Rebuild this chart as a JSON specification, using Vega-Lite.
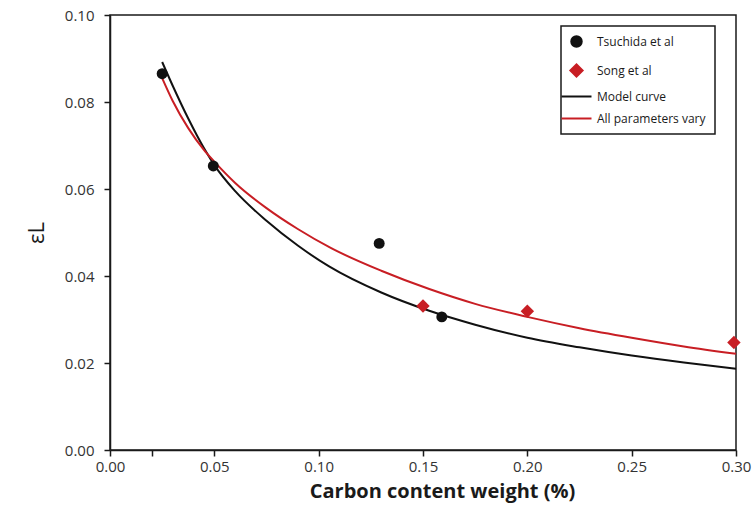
{
  "$schema": "https://vega.github.io/schema/vega-lite/v6.json",
  "width": 626,
  "height": 435,
  "autosize": {"type": "none"},
  "padding": {"left": 110, "top": 15, "right": 17, "bottom": 78},
  "background": "white",
  "config": {
    "view": {"stroke": "#1a1a1a", "strokeWidth": 1.5},
    "font": "Open Sans",
    "axis": {"grid": false, "domainColor": "#1a1a1a", "domainWidth": 1.5, "tickColor": "#1a1a1a", "tickWidth": 1.5, "tickSize": 6, "labelFont": "Open Sans", "labelFontSize": 15, "labelColor": "#333333", "titleFont": "Open Sans", "titleColor": "#1a1a1a"}
  },
  "data": {
    "values": [
      {"x": 0.025, "y": 0.0865, "series": "Tsuchida et al", "kind": "point"},
      {"x": 0.0495, "y": 0.0653, "series": "Tsuchida et al", "kind": "point"},
      {"x": 0.129, "y": 0.0475, "series": "Tsuchida et al", "kind": "point"},
      {"x": 0.159, "y": 0.0306, "series": "Tsuchida et al", "kind": "point"},
      {"x": 0.15, "y": 0.0331, "series": "Song et al", "kind": "point"},
      {"x": 0.2, "y": 0.0319, "series": "Song et al", "kind": "point"},
      {"x": 0.299, "y": 0.0247, "series": "Song et al", "kind": "point"},
      {"x": 0.025, "y": 0.0892, "series": "Model curve", "kind": "line"},
      {"x": 0.03, "y": 0.0838, "series": "Model curve", "kind": "line"},
      {"x": 0.0375, "y": 0.0762, "series": "Model curve", "kind": "line"},
      {"x": 0.045, "y": 0.0694, "series": "Model curve", "kind": "line"},
      {"x": 0.05, "y": 0.0655, "series": "Model curve", "kind": "line"},
      {"x": 0.06, "y": 0.0595, "series": "Model curve", "kind": "line"},
      {"x": 0.075, "y": 0.0527, "series": "Model curve", "kind": "line"},
      {"x": 0.09, "y": 0.047, "series": "Model curve", "kind": "line"},
      {"x": 0.105, "y": 0.0422, "series": "Model curve", "kind": "line"},
      {"x": 0.13, "y": 0.0362, "series": "Model curve", "kind": "line"},
      {"x": 0.153, "y": 0.032, "series": "Model curve", "kind": "line"},
      {"x": 0.175, "y": 0.0288, "series": "Model curve", "kind": "line"},
      {"x": 0.2, "y": 0.0258, "series": "Model curve", "kind": "line"},
      {"x": 0.225, "y": 0.0236, "series": "Model curve", "kind": "line"},
      {"x": 0.25, "y": 0.0217, "series": "Model curve", "kind": "line"},
      {"x": 0.275, "y": 0.0201, "series": "Model curve", "kind": "line"},
      {"x": 0.3, "y": 0.0187, "series": "Model curve", "kind": "line"},
      {"x": 0.025, "y": 0.0855, "series": "All parameters vary", "kind": "line"},
      {"x": 0.03, "y": 0.0803, "series": "All parameters vary", "kind": "line"},
      {"x": 0.0375, "y": 0.074, "series": "All parameters vary", "kind": "line"},
      {"x": 0.045, "y": 0.069, "series": "All parameters vary", "kind": "line"},
      {"x": 0.05, "y": 0.0663, "series": "All parameters vary", "kind": "line"},
      {"x": 0.06, "y": 0.0614, "series": "All parameters vary", "kind": "line"},
      {"x": 0.075, "y": 0.0556, "series": "All parameters vary", "kind": "line"},
      {"x": 0.09, "y": 0.0508, "series": "All parameters vary", "kind": "line"},
      {"x": 0.106, "y": 0.0464, "series": "All parameters vary", "kind": "line"},
      {"x": 0.13, "y": 0.0412, "series": "All parameters vary", "kind": "line"},
      {"x": 0.153, "y": 0.037, "series": "All parameters vary", "kind": "line"},
      {"x": 0.175, "y": 0.0336, "series": "All parameters vary", "kind": "line"},
      {"x": 0.2, "y": 0.0306, "series": "All parameters vary", "kind": "line"},
      {"x": 0.225, "y": 0.028, "series": "All parameters vary", "kind": "line"},
      {"x": 0.25, "y": 0.0258, "series": "All parameters vary", "kind": "line"},
      {"x": 0.275, "y": 0.0238, "series": "All parameters vary", "kind": "line"},
      {"x": 0.3, "y": 0.0221, "series": "All parameters vary", "kind": "line"}
    ]
  },
  "encoding": {
    "x": {
      "field": "x", "type": "quantitative",
      "scale": {"domain": [0, 0.3], "nice": false, "zero": false},
      "axis": {"values": [0, 0.02, 0.05, 0.1, 0.15, 0.2, 0.25, 0.3], "labelExpr": "datum.value == 0.02 ? '' : format(datum.value, '.2f')", "labelPadding": 3, "title": "Carbon content weight (%)", "titleFontSize": 20, "titleFontWeight": "bold", "titlePadding": 7, "titleX": 332, "labelFlush": false}
    },
    "y": {
      "field": "y", "type": "quantitative",
      "scale": {"domain": [0, 0.1], "nice": false},
      "axis": {"values": [0, 0.02, 0.04, 0.06, 0.08, 0.1], "format": ".2f", "labelPadding": 10, "title": "εL", "titleFontSize": 22, "titleFontWeight": "normal", "titlePadding": 16, "labelFlush": false}
    },
    "color": {
      "field": "series", "type": "nominal",
      "scale": {"domain": ["Tsuchida et al", "Song et al", "Model curve", "All parameters vary"], "range": ["#111111", "#c81e24", "#111111", "#c81e24"]},
      "legend": {
        "title": null, "orient": "none", "legendX": 451, "legendY": 11,
        "strokeColor": "#1a1a1a", "fillColor": "white",
        "padding": 9, "rowPadding": 9, "labelFontSize": 12, "labelFont": "Open Sans", "labelColor": "#1a1a1a",
        "symbolSize": 120, "labelOffset": 14,
        "encode": {
          "legend": {"update": {"strokeWidth": {"value": 1.5}}},
          "symbols": {"update": {
            "stroke": {"scale": "color", "field": "value"},
            "strokeWidth": {"value": 2},
            "size": {"signal": "datum.value == 'Model curve' || datum.value == 'All parameters vary' ? 900 : (datum.value == 'Song et al' ? 150 : 110)"}
          }}
        }
      }
    }
  },
  "layer": [
    {
      "transform": [{"filter": "datum.kind == 'line'"}],
      "mark": {"type": "line", "strokeWidth": 2, "interpolate": "monotone"},
      "encoding": {}
    },
    {
      "transform": [{"filter": "datum.series == 'Tsuchida et al'"}],
      "mark": {"type": "point", "filled": true, "opacity": 1, "size": 120},
      "encoding": {
        "shape": {
          "field": "series", "type": "nominal",
          "scale": {"domain": ["Tsuchida et al", "Song et al", "Model curve", "All parameters vary"], "range": ["circle", "diamond", "stroke", "stroke"]},
          "legend": null
        }
      }
    },
    {
      "transform": [{"filter": "datum.series == 'Song et al'"}],
      "mark": {"type": "point", "filled": true, "opacity": 1, "size": 180},
      "encoding": {
        "shape": {
          "field": "series", "type": "nominal",
          "legend": null
        }
      }
    }
  ]
}
